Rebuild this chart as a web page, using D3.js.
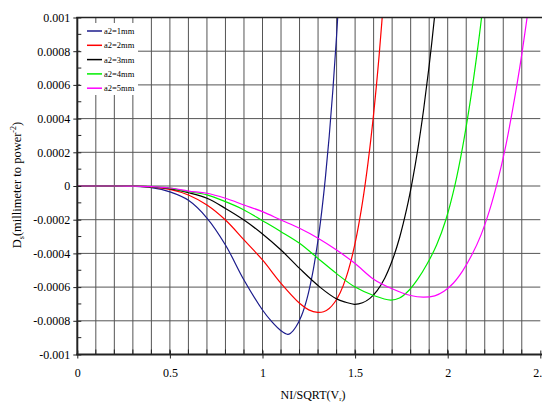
<!DOCTYPE html>
<html><head><meta charset="utf-8">
<script src="https://cdn.jsdelivr.net/npm/d3@7"></script>
<style>body{margin:0;background:#fff}svg{display:block}
text{font-family:"Liberation Serif","Times New Roman",serif !important;}</style>
</head><body>
<script>
const seriesNames = ["a2=1mm","a2=2mm","a2=3mm","a2=4mm","a2=5mm"];
const seriesColors = ["#1c1c8c","#ff0000","#000000","#00ee00","#ff00ff"];

const x1 = [0,0.2,0.3,0.4,0.5,0.6,0.7,0.8,0.9,1.0,1.05,1.1,1.136,1.15,1.18,1.21,1.24,1.27,1.3,1.32,1.34,1.36,1.38,1.40,1.42];
const y1 = [0,0,-0.000002,-0.00001,-0.000035,-0.000085,-0.00019,-0.00035,-0.000558,-0.000736,-0.000805,-0.000859,-0.00088,-0.000875,-0.000837,-0.000772,-0.00067,-0.000522,-0.000319,-0.000149,0.000054,0.000292,0.00057,0.000892,0.00126];

const x2 = [0,0.2,0.3,0.4,0.5,0.6,0.7,0.8,0.9,1.0,1.1,1.2,1.25,1.298,1.33,1.36,1.39,1.42,1.45,1.48,1.51,1.54,1.57,1.60,1.63,1.66,1.68];
const y2 = [0,0,-0.000001,-0.000006,-0.00002,-0.000053,-0.000113,-0.000202,-0.00032,-0.000439,-0.000578,-0.000696,-0.000735,-0.00075,-0.000746,-0.000727,-0.00069,-0.000632,-0.000548,-0.000434,-0.000285,-0.000096,0.00014,0.000428,0.000778,0.0012,0.0015];

const x3 = [0,0.2,0.3,0.4,0.5,0.6,0.7,0.8,0.9,1.0,1.1,1.2,1.31,1.4,1.45,1.496,1.54,1.58,1.62,1.66,1.70,1.74,1.78,1.81,1.84,1.87,1.90,1.93,1.95];
const y3 = [0,0,-0.000001,-0.000005,-0.000016,-0.00004,-0.000073,-0.000133,-0.000202,-0.000285,-0.00038,-0.000489,-0.0006,-0.00067,-0.00069,-0.000702,-0.000693,-0.000667,-0.000619,-0.000547,-0.000444,-0.000307,-0.000129,0.000035,0.000228,0.000454,0.000715,0.001015,0.00124];

const x4 = [0,0.2,0.3,0.4,0.5,0.6,0.7,0.8,0.9,1.0,1.1,1.2,1.3,1.4,1.5,1.6,1.692,1.74,1.79,1.84,1.89,1.94,1.99,2.04,2.08,2.12,2.16,2.19,2.21];
const y4 = [0,0,-0.000001,-0.000004,-0.000013,-0.000034,-0.000053,-0.000093,-0.000142,-0.000206,-0.000271,-0.00034,-0.00043,-0.00052,-0.0006,-0.00065,-0.000677,-0.000665,-0.00062,-0.00055,-0.00046,-0.00035,-0.0002,0.00001,0.000228,0.00049,0.0008,0.00107,0.0013];

const x5 = [0,0.2,0.3,0.4,0.5,0.6,0.7,0.8,0.9,1.0,1.1,1.2,1.3,1.4,1.5,1.6,1.7,1.8,1.868,1.93,1.98,2.03,2.08,2.13,2.18,2.23,2.27,2.31,2.35,2.39,2.43,2.46];
const y5 = [0,0,-0.000001,-0.000004,-0.000012,-0.00003,-0.000043,-0.000073,-0.000113,-0.000152,-0.000202,-0.000251,-0.00031,-0.00038,-0.00046,-0.000553,-0.00061,-0.00065,-0.00066,-0.000652,-0.000625,-0.000577,-0.000505,-0.00041,-0.00029,-0.00013,0.00003,0.00022,0.00045,0.00071,0.00101,0.00125];

const xTickLabels = ["0","0.5","1","1.5","2","2.5"];
const xTickValues = [0,0.5,1,1.5,2,2.5];
const yTickValues = [0.001,0.0008,0.0006,0.0004,0.0002,0,-0.0002,-0.0004,-0.0006,-0.0008,-0.001];
const yTickLabels = ["0.001","0.0008","0.0006","0.0004","0.0002","0","-0.0002","-0.0004","-0.0006","-0.0008","-0.001"];

const W = 542, H = 403;
const L = 77.3, R = 540.3, T = 17.5, B = 354.5;
const xs = d3.scaleLinear().domain([0,2.5]).range([L,R]);
const ys = d3.scaleLinear().domain([-0.001,0.001]).range([B,T]);

const svg = d3.select("body").append("svg").attr("width",W).attr("height",H);

svg.append("defs").append("clipPath").attr("id","clip")
  .append("rect").attr("x",L).attr("y",T).attr("width",R-L).attr("height",B-T);

// grid
const g = svg.append("g");
const vx = d3.range(1,25).map(i=>i/10);
g.selectAll(".vg").data(vx).join("line")
  .attr("x1",d=>xs(d)).attr("x2",d=>xs(d)).attr("y1",T).attr("y2",B)
  .attr("stroke","#555").attr("stroke-width",1);
const hy = d3.range(-4,5).map(i=>i*0.0002);
g.selectAll(".hg").data(hy).join("line")
  .attr("x1",L).attr("x2",R).attr("y1",d=>ys(d)).attr("y2",d=>ys(d))
  .attr("stroke","#555").attr("stroke-width",1);

// legend box background
svg.append("rect").attr("x",80).attr("y",23).attr("width",58).attr("height",72).attr("fill","#fff");

// curves
const xsArr=[x1,x2,x3,x4,x5], ysArr=[y1,y2,y3,y4,y5];
const line = d3.line().x(d=>xs(d[0])).y(d=>ys(d[1])).curve(d3.curveCatmullRom.alpha(0.5));
const cg = svg.append("g").attr("clip-path","url(#clip)");
xsArr.forEach((xa,i)=>{
  const pts = xa.map((v,j)=>[v,ysArr[i][j]]);
  cg.append("path").datum(pts).attr("d",line).attr("fill","none")
    .attr("stroke",seriesColors[i]).attr("stroke-width",1.2);
});

// axes
const xAxis = d3.axisBottom(xs).tickValues(xTickValues).tickFormat((d,i)=>xTickLabels[i]).tickSize(4).tickPadding(10);
const xa = svg.append("g").attr("transform",`translate(0,${B})`).call(xAxis);
xa.attr("font-family",null);
xa.select(".domain").remove();
xa.selectAll("line").attr("y1",-4).attr("y2",4).attr("stroke","#222");
xa.selectAll("text").attr("font-size","12px").attr("fill","#000");
svg.append("g").selectAll("line").data(d3.range(1,25).map(i=>i/10)).join("line")
  .attr("x1",d=>xs(d)).attr("x2",d=>xs(d)).attr("y1",B-5).attr("y2",B)
  .attr("stroke","#222").attr("stroke-width",1);

const yAxis = d3.axisLeft(ys).tickValues(yTickValues).tickFormat((d,i)=>yTickLabels[i]).tickSize(4).tickPadding(3);
const ya = svg.append("g").attr("transform",`translate(${L},0)`).call(yAxis);
ya.attr("font-family",null);
ya.select(".domain").remove();
ya.selectAll("line").attr("x1",-4).attr("x2",4).attr("stroke","#222");
ya.selectAll("text").attr("font-size","12px").attr("fill","#000");
svg.append("g").selectAll("line").data(d3.range(-9,10,2).map(i=>i*0.0001)).join("line")
  .attr("x1",L).attr("x2",L+4).attr("y1",d=>ys(d)).attr("y2",d=>ys(d))
  .attr("stroke","#222").attr("stroke-width",1);

// frame lines
svg.append("line").attr("x1",L).attr("x2",L).attr("y1",T-0.5).attr("y2",B+0.5).attr("stroke","#222").attr("stroke-width",2);
svg.append("line").attr("x1",L-1).attr("x2",R+2).attr("y1",B).attr("y2",B).attr("stroke","#222").attr("stroke-width",2);
svg.append("line").attr("x1",L-1).attr("x2",R+2).attr("y1",T).attr("y2",T).attr("stroke","#222").attr("stroke-width",1.5);

// legend
const lg = svg.append("g");
seriesNames.forEach((n,i)=>{
  const yy = 31 + i*14.3;
  lg.append("line").attr("x1",87).attr("x2",102).attr("y1",yy).attr("y2",yy)
    .attr("stroke",seriesColors[i]).attr("stroke-width",1.5);
  lg.append("text").attr("x",104).attr("y",yy+3).attr("font-size","8.5px").attr("fill","#000").text(n);
});

// axis titles
const xt = svg.append("text").attr("x",313).attr("y",399).attr("text-anchor","middle").attr("font-size","12px").attr("fill","#000");
xt.append("tspan").text("NI/SQRT(V");
xt.append("tspan").attr("font-size","7px").attr("dy",2).text("r");
xt.append("tspan").attr("dy",-2).text(")");

const yt = svg.append("text").attr("transform","translate(21,185) rotate(-90)").attr("text-anchor","middle").attr("font-size","12.5px").attr("fill","#000");
yt.append("tspan").text("D");
yt.append("tspan").attr("font-size","8px").attr("dy",3).text("s");
yt.append("tspan").attr("dy",-3).text("(millimeter to power");
yt.append("tspan").attr("font-size","8px").attr("dy",-5).text("-2");
yt.append("tspan").attr("dy",5).text(")");
</script>
</body></html>
